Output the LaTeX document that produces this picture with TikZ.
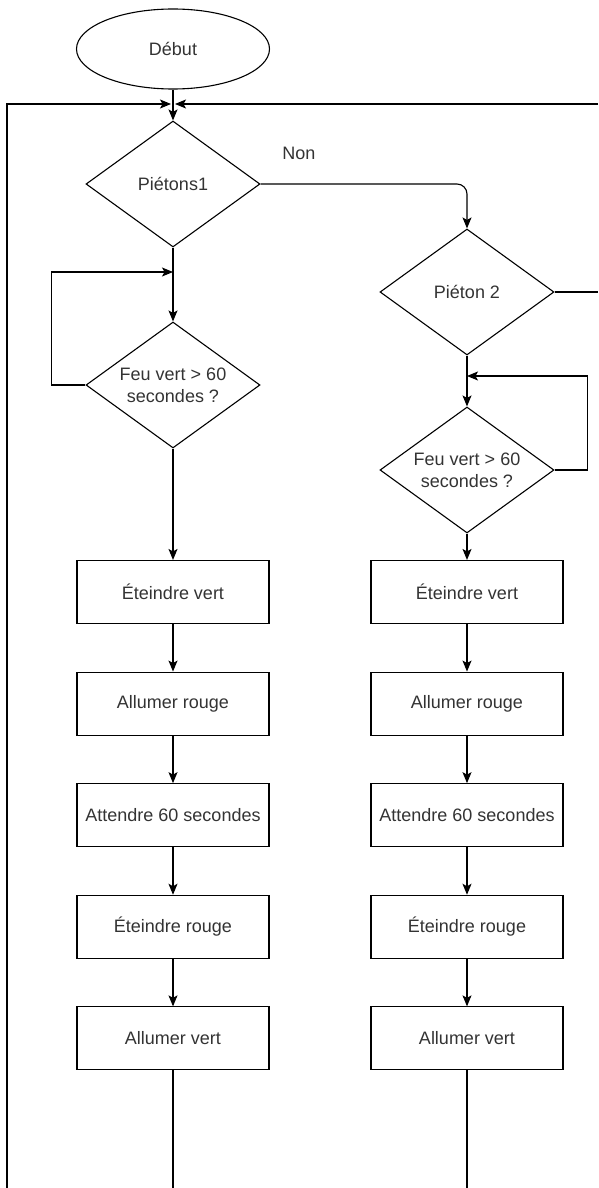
\documentclass[tikz,border=0pt]{standalone}
\usepackage{fontspec}
\setmainfont{Liberation Sans}
\usetikzlibrary{positioning,shapes.geometric,arrows.meta}

\begin{document}
\begin{tikzpicture}[x=1pt,y=-1pt,line width=1.1pt,
  every node/.style={font=\fontsize{18}{22}\selectfont,text=black!80},
  debut/.style={draw,ellipse,minimum width=193pt,minimum height=80pt,inner sep=0pt},
  test/.style={draw,diamond,shape aspect=1.38,minimum width=174pt,minimum height=126pt,inner sep=0pt,align=center},
  action/.style={draw,rectangle,minimum width=192pt,minimum height=63pt,inner sep=0pt},
  fleche/.style={-{Stealth[length=11pt,width=9pt,inset=2.5pt]}}]
\useasboundingbox (0,0) rectangle (598,1188);
\node[debut] (debut) at (173,49) {Début};
\node[test] (pietons1) at (173,184) {Piétons1};
\node[test] (feu1) at (173,385) {Feu vert > 60\\secondes ?};
\node[test] (pieton2) at (467,292) {Piéton 2};
\node[test] (feu2) at (467,470) {Feu vert > 60\\secondes ?};
\node (non) at (299,153) {Non};
\node[action] (eteindrev1) at (173,592) {Éteindre vert};
\node[action,below=47.5pt of eteindrev1] (allumerr1) {Allumer rouge};
\node[action,below=47.5pt of allumerr1] (attendre1) {Attendre 60 secondes};
\node[action,below=47.5pt of attendre1] (eteindrer1) {Éteindre rouge};
\node[action,below=47.5pt of eteindrer1] (allumerv1) {Allumer vert};
\node[action] (eteindrev2) at (467,592) {Éteindre vert};
\node[action,below=47.5pt of eteindrev2] (allumerr2) {Allumer rouge};
\node[action,below=47.5pt of allumerr2] (attendre2) {Attendre 60 secondes};
\node[action,below=47.5pt of attendre2] (eteindrer2) {Éteindre rouge};
\node[action,below=47.5pt of eteindrer2] (allumerv2) {Allumer vert};
\coordinate (jonction) at (173,104);
\coordinate (retourg) at (7,1188);
\coordinate (retourd) at (598,104);
\coordinate (sortie2) at (598,292);
\coordinate (boucle1) at (173,272);
\coordinate (boucle2) at (467,376);
\coordinate (fin1) at (173,1188);
\coordinate (fin2) at (467,1188);
\draw[fleche] (debut) -- (pietons1);
\draw[fleche] (retourg) |- ([xshift=-2pt]jonction);
\draw[fleche] (retourd) -- ([xshift=2pt]jonction);
\draw[fleche,rounded corners=10pt] (pietons1.east) -| (pieton2.north);
\draw (pieton2.east) -- (sortie2);
\draw[fleche] (pietons1) -- (feu1);
\draw[fleche] (feu1.west) -- ++(-34,0) |- (boucle1);
\draw[fleche] (feu1) -- (eteindrev1);
\draw[fleche] (pieton2) -- (feu2);
\draw[fleche] (feu2.east) -- ++(33,0) |- (boucle2);
\draw[fleche] (feu2) -- (eteindrev2);
\draw[fleche] (eteindrev1) -- (allumerr1);
\draw[fleche] (allumerr1) -- (attendre1);
\draw[fleche] (attendre1) -- (eteindrer1);
\draw[fleche] (eteindrer1) -- (allumerv1);
\draw (allumerv1) -- (fin1);
\draw[fleche] (eteindrev2) -- (allumerr2);
\draw[fleche] (allumerr2) -- (attendre2);
\draw[fleche] (attendre2) -- (eteindrer2);
\draw[fleche] (eteindrer2) -- (allumerv2);
\draw (allumerv2) -- (fin2);
\end{tikzpicture}
\end{document}
